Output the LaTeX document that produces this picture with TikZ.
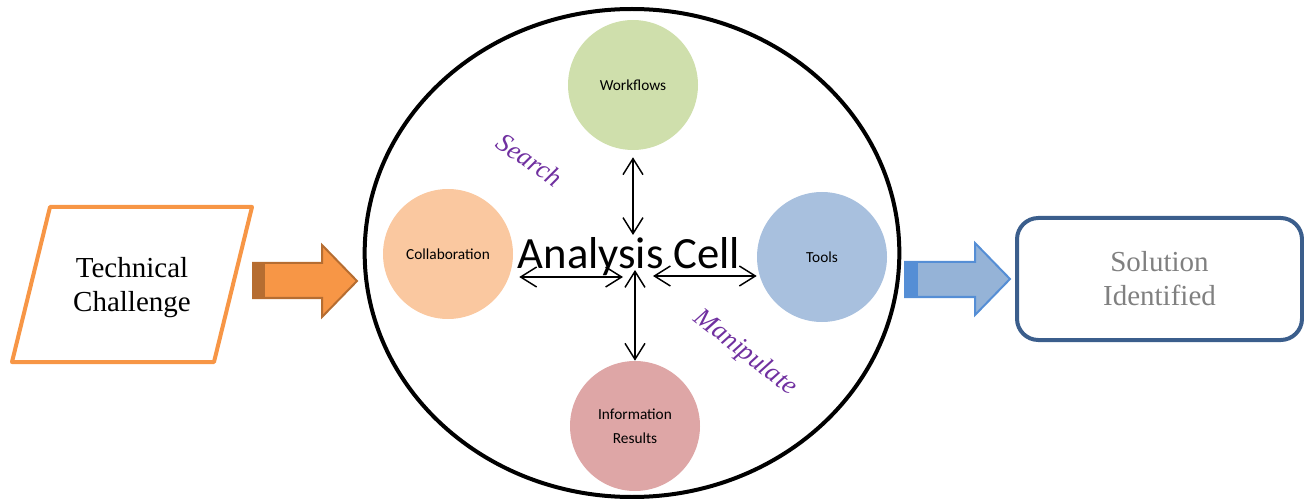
\documentclass[tikz,border=0pt]{standalone}
\usepackage{fontspec}
\setmainfont{Liberation Serif}
\newfontfamily\timesfont{Liberation Serif}
\newfontfamily\calibri{Carlito}
\usetikzlibrary{shapes.geometric, arrows.meta, positioning, calc}

\definecolor{tcorange}{HTML}{F79646}
\definecolor{tcbrown}{HTML}{B66D31}
\definecolor{sollight}{HTML}{95B3D7}
\definecolor{solmid}{HTML}{558ED5}
\definecolor{soldark}{HTML}{3B5E8C}
\definecolor{wfgreen}{RGB}{207,223,172}
\definecolor{copeach}{RGB}{250,200,160}
\definecolor{tlblue}{RGB}{168,192,222}
\definecolor{irpink}{RGB}{222,166,166}
\definecolor{verbpurple}{HTML}{7030A0}

\begin{document}
\begin{tikzpicture}[x=0.75pt, y=-0.75pt,
		bubble/.style={circle, minimum size=97.5pt, inner sep=0pt,
			font=\calibri\fontsize{11.5}{18}\selectfont, align=center},
		dblarrow/.style={{Straight Barb[length=12pt,width=15pt]}-{Straight Barb[length=12pt,width=15pt]}, line width=1.1pt},
		verb/.style={text=verbpurple, font=\timesfont\itshape\fontsize{20}{22}\selectfont},
		box/.style={align=center, font=\timesfont\fontsize{21.75}{25.5}\selectfont}
	]
	\useasboundingbox (0,0) rectangle (1304,499);

	% input and output
	\draw[tcorange, line width=3pt, line join=round]
		(50,207) -- (252,207) -- (214,362) -- (12,362) -- cycle;
	\node (tc) [box] at (132,288) {Technical\\Challenge};

	\node (sol) [box, draw=soldark, line width=3pt, rounded corners=16pt,
		minimum width=213.75pt, minimum height=91.5pt,
		text=gray] at (1159.5,279) {Solution\\Identified};

	% block arrows
	\filldraw[fill=tcorange, draw=tcbrown, line width=1.5pt, line join=miter]
		(253,263) -- (322,263) -- (322,245) -- (357,281) -- (322,317) -- (322,298) -- (253,298) -- cycle;
	\fill[tcbrown] (253,263) rectangle (265,298);

	\filldraw[fill=sollight, draw=solmid, line width=1.5pt, line join=miter]
		(905,262) -- (975,262) -- (975,243) -- (1010,279) -- (975,315) -- (975,297) -- (905,297) -- cycle;
	\fill[solmid] (905,262) rectangle (918,297);

	% the cell
	\node (cell) [draw, ellipse, line width=3pt, minimum width=401pt, minimum height=366pt] at (632,253) {};

	\node (wf) [bubble, fill=wfgreen] at (633,85) {Workflows};
	\node (co) [bubble, fill=copeach] at (448,254) {Collaboration};
	\node (tl) [bubble, fill=tlblue] at (822,257) {Tools};
	\node (ir) [bubble, fill=irpink] at (635,426) {Information\\Results};

	\node (ac) [anchor=base, inner sep=0pt, font=\calibri\fontsize{33.5}{36}\selectfont] at (629,268) {Analysis Cell};

	\coordinate (ht) at (633,235);
	\coordinate (hl) at (623,277);
	\coordinate (hr) at (653,276);
	\coordinate (hb) at (635,270);

	\draw[dblarrow] (ht |- wf.south) ++(0,7) -- (ht);
	\draw[dblarrow] (hl -| co.east) ++(6,0) -- (hl);
	\draw[dblarrow] (hr) -- (hr -| tl.west);
	\draw[dblarrow] (hb) -- (hb |- ir.north);

	\node (srch) [verb, rotate=-35] at (530,160) {Search};
	\node (mnp) [verb, rotate=-38] at (745,353) {Manipulate};
\end{tikzpicture}
\end{document}
